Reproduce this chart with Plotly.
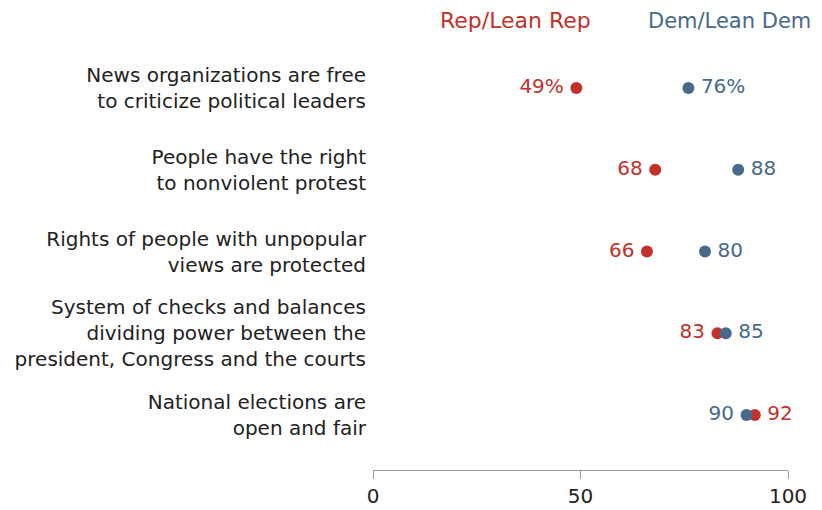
import plotly.graph_objects as go

categories = [
    "News organizations are free<br>to criticize political leaders",
    "People have the right<br>to nonviolent protest",
    "Rights of people with unpopular<br>views are protected",
    "System of checks and balances<br>dividing power between the<br>president, Congress and the courts",
    "National elections are<br>open and fair",
]
rep_values = [49, 68, 66, 83, 92]
dem_values = [76, 88, 80, 85, 90]
rep_labels = ["49%", "68", "66", "83", "92"]
dem_labels = ["76%", "88", "80", "85", "90"]
x_ticks = [0, 50, 100]

RED = "#C2312A"
BLUE = "#46698C"
FONT = "DejaVu Sans"
SP = "\u2009"

rows = list(range(len(categories)))
rep_left = [r < d for r, d in zip(rep_values, dem_values)]
rep_pos = ["middle left" if l else "middle right" for l in rep_left]
dem_pos = ["middle right" if l else "middle left" for l in rep_left]
rep_text = [t + SP if l else SP + t for t, l in zip(rep_labels, rep_left)]
dem_text = [SP + t if l else t + SP for t, l in zip(dem_labels, rep_left)]

fig = go.Figure()
fig.add_trace(go.Scatter(
    x=rep_values, y=rows, mode="markers+text", text=rep_text,
    textposition=rep_pos, marker=dict(color=RED, size=12),
    textfont=dict(color=RED, size=20, family=FONT), cliponaxis=False,
    showlegend=False, hoverinfo="skip"))
fig.add_trace(go.Scatter(
    x=dem_values, y=rows, mode="markers+text", text=dem_text,
    textposition=dem_pos, marker=dict(color=BLUE, size=12),
    textfont=dict(color=BLUE, size=20, family=FONT), cliponaxis=False,
    showlegend=False, hoverinfo="skip"))

# page body has an 8px margin, so the figure is drawn at (8, 8)
fig.update_layout(
    width=814, height=502,
    margin=dict(l=365, r=34, t=52, b=40, autoexpand=False),
    paper_bgcolor="white", plot_bgcolor="white",
    font=dict(family=FONT, size=20, color="#222"),
    xaxis=dict(range=[0, 100], tickvals=x_ticks, ticks="outside", ticklen=8,
               tickcolor="#999", showline=True, linecolor="#999", linewidth=1,
               showgrid=False, zeroline=False, automargin=False,
               tickfont=dict(size=20, color="#222")),
    yaxis=dict(range=[4.6728, -0.3425], tickvals=rows, ticktext=categories,
               showgrid=False, zeroline=False, showline=False, ticks="",
               automargin=False,
               ticklabelstandoff=6, tickfont=dict(size=20, color="#222")),
    annotations=[
        dict(text="Rep/Lean Rep", x=(593 - 373) / 415, y=1.0 + (52 - 13) / 410,
             xref="paper", yref="paper", showarrow=False,
             font=dict(color=RED, size=22, family=FONT), xanchor="right", yanchor="middle"),
        dict(text="Dem/Lean Dem", x=(813 - 373) / 415, y=1.0 + (52 - 13) / 410,
             xref="paper", yref="paper", showarrow=False,
             font=dict(color=BLUE, size=21, family=FONT), xanchor="right", yanchor="middle"),
    ],
)

fig.write_html("out.html")
